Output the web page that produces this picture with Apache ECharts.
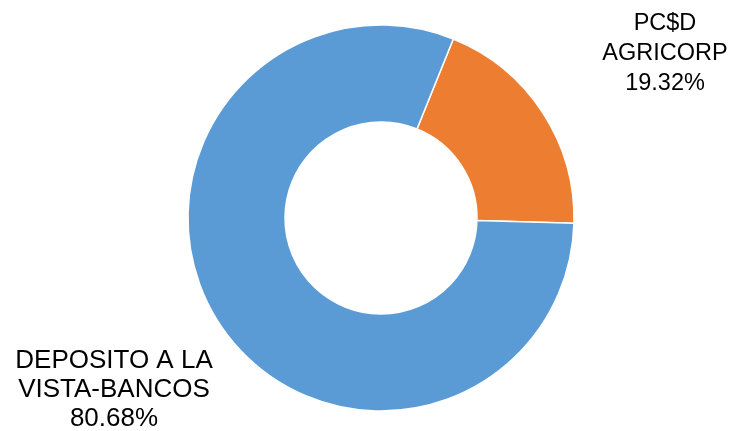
<!DOCTYPE html>
<html><head><meta charset="utf-8">
<script src="https://cdn.jsdelivr.net/npm/echarts@6/dist/echarts.min.js"></script>
<style>html,body{margin:0;padding:0;background:#fff}#c{width:742px;height:431px}</style>
</head><body><div id="c"></div>
<script>
const categories = ['PC$D\nAGRICORP', 'DEPOSITO A LA\nVISTA-BANCOS'];
const values = [19.32, 80.68];
const colors = ['#ED7D31', '#5B9BD5'];
const labelPos = [[665, 54], [114, 390]];
const labelFont = [[23.5, 30], [26, 29]];

const chart = echarts.init(document.getElementById('c'));
chart.setOption({
  animation: false,
  series: [{
    type: 'pie',
    center: [381, 218],
    radius: [96, 193],
    startAngle: 68,
    clockwise: true,
    data: categories.map((c, i) => ({
      name: c, value: values[i],
      itemStyle: {color: colors[i]},
      label: {fontSize: labelFont[i][0], lineHeight: labelFont[i][1]}
    })),
    itemStyle: {borderColor: '#fff', borderWidth: 1.5},
    label: {
      show: true,
      position: 'outside',
      formatter: p => p.name + '\n' + p.value.toFixed(2) + '%',
      fontFamily: 'Liberation Sans, Arial',
      color: '#000',
      align: 'center',
      width: 260,
      overflow: 'none'
    },
    labelLine: {show: false},
    labelLayout: p => ({x: labelPos[p.dataIndex][0], y: labelPos[p.dataIndex][1], align: 'center', verticalAlign: 'middle'})
  }]
});
</script></body></html>
